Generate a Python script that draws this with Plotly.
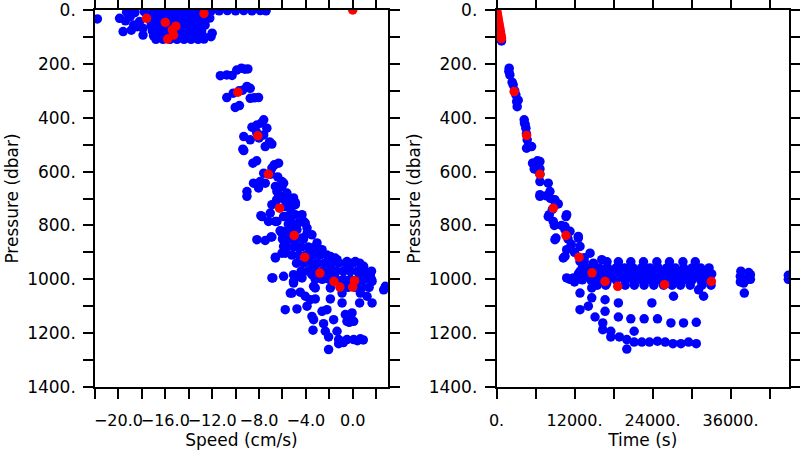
import plotly.graph_objects as go

# ---------------- data (speed [cm/s], pressure [dbar]) ----------------
left_blue_surface = [
    (-21.8, 33), (-19.9, 31), (-19.0, 25), (-19.4, 40), (-19.6, 80), (-18.7, 56), (-18.4, 62),
    (-18.2, 43), (-17.9, 93), (-17.9, 68), (-19.3, 8), (-18.6, 10), (-17.8, 6), (-18.9, 75),
    (-17.0, 3), (-16.3, 3), (-15.6, 2), (-14.9, 3), (-14.2, 2), (-13.5, 3), (-12.8, 2), (-12.1, 4),
    (-11.4, 3), (-10.7, 2), (-10.0, 3), (-9.3, 2), (-8.6, 3), (-7.9, 2), (-7.4, 3),
    (-17.2, 18), (-16.6, 18), (-16.0, 18), (-15.4, 18), (-14.8, 18), (-14.2, 18), (-13.6, 18), (-13.0, 18), (-12.5, 18),
    (-17.3, 38), (-16.7, 38), (-16.1, 38), (-15.5, 38), (-14.9, 38), (-14.3, 38), (-13.7, 38), (-13.1, 38), (-12.6, 38),
    (-17.2, 58), (-16.6, 58), (-16.0, 58), (-15.4, 58), (-14.8, 58), (-14.2, 58), (-13.6, 58), (-13.0, 58), (-12.6, 56),
    (-17.1, 78), (-16.5, 78), (-15.9, 78), (-15.3, 78), (-14.7, 78), (-14.1, 78), (-13.5, 78), (-12.9, 78),
    (-17.0, 96), (-16.4, 96), (-15.8, 96), (-15.2, 96), (-14.6, 96), (-14.0, 96), (-13.4, 96), (-12.8, 96),
    (-16.8, 109), (-16.2, 109), (-15.6, 109), (-15.0, 109), (-14.4, 109), (-13.8, 109), (-13.2, 109), (-12.7, 108),
    (-12.0, 86), (-12.1, 99), (-12.2, 30),
]

left_blue_descent = [
    (-11.3, 244), (-10.75, 241), (-10.3, 243), (-9.9, 223), (-9.5, 216), (-8.95, 219), (-9.2, 220),
    (-9.03, 284), (-8.75, 291), (-9.4, 298), (-10.2, 309), (-10.75, 325), (-9.7, 300), (-8.75, 328),
    (-8.04, 325), (-8.4, 326), (-10.03, 362), (-9.67, 355),
    (-7.6, 408), (-8.18, 427), (-7.33, 439), (-7.8, 420), (-8.6, 435), (-9.3, 470), (-8.75, 482),
    (-7.6, 464), (-8.2, 455), (-6.9, 498), (-7.47, 507), (-7.1, 490), (-9.38, 517), (-8.0, 475),
    (-9.3, 522), (-8.52, 569), (-6.33, 569), (-6.9, 587), (-7.6, 606), (-6.7, 575), (-8.2, 560),
    (-6.04, 637), (-8.47, 643), (-7.9, 637), (-6.4, 620), (-7.0, 610),
    (-9.03, 674), (-9.03, 692), (-8.04, 661), (-7.47, 643), (-5.9, 643), (-6.47, 674), (-5.62, 680),
    (-5.05, 698), (-6.6, 655), (-6.04, 655), (-6.33, 686), (-4.9, 715), (-6.9, 723), (-5.62, 723),
    (-4.9, 723), (-5.76, 730), (-5.3, 740), (-6.5, 705), (-6.0, 700), (-5.5, 700),
    (-7.75, 767), (-7.19, 785), (-6.47, 785), (-5.9, 767), (-5.33, 779), (-4.33, 760), (-4.19, 785),
    (-3.9, 810), (-7.04, 754), (-7.84, 764), (-6.6, 785), (-5.62, 767), (-4.9, 760), (-4.05, 791),
    (-5.0, 800), (-4.6, 790), (-5.5, 795),
    (-8.18, 853), (-6.9, 843), (-6.04, 822), (-5.62, 853), (-4.76, 816), (-4.33, 847), (-3.48, 835),
    (-3.05, 865), (-6.04, 829), (-5.33, 816), (-3.9, 829), (-5.05, 853), (-7.47, 856), (-6.98, 843),
    (-5.9, 878), (-6.04, 903), (-6.6, 918), (-3.6, 909), (-1.5, 921), (-2.77, 890),
]

left_blue_bottom = [
    (-6.2, 820), (-5.6, 820), (-5.0, 820),
    (-6.0, 850), (-5.4, 850), (-4.8, 850), (-4.2, 850),
    (-5.6, 880), (-5.0, 880), (-4.4, 880), (-3.8, 880), (-3.2, 880),
    (-5.2, 910), (-4.6, 910), (-4.0, 910), (-3.4, 910), (-2.8, 910), (-2.2, 910),
    (-4.8, 940), (-4.2, 940), (-3.6, 940), (-3.0, 940), (-2.4, 940), (-1.8, 940), (-1.2, 940), (-0.6, 940), (0.0, 940), (0.6, 940),
    (-4.4, 970), (-3.8, 970), (-3.2, 970), (-2.6, 970), (-2.0, 970), (-1.4, 970), (-0.8, 970), (-0.2, 970), (0.4, 970), (1.0, 970), (1.6, 970),
    (-3.2, 1000), (-2.6, 1000), (-2.0, 1000), (-1.4, 1000), (-0.8, 1000), (-0.2, 1000), (0.4, 1000), (1.0, 1000), (1.6, 1000),
    (-1.0, 1030), (-0.4, 1030), (0.2, 1030), (0.8, 1030), (1.4, 1030),
    (-5.76, 903), (-6.6, 921), (-4.76, 878), (-3.6, 884), (-2.62, 890), (-1.91, 915), (-1.34, 927),
    (-0.49, 934), (0.22, 934), (0.93, 952), (1.5, 983), (1.65, 1008), (0.65, 983), (-3.05, 940),
    (-3.6, 958), (-1.91, 958), (-0.49, 964), (0.65, 1008), (0.08, 1014), (-0.49, 1026), (-1.63, 989),
    (-2.34, 995), (-3.48, 983), (-5.9, 989), (-6.9, 995), (-5.05, 983), (-5.05, 1014), (-4.33, 995),
    (-3.34, 1026), (-1.91, 1032), (2.79, 1026), (2.64, 1039), (-5.33, 1051), (-4.05, 1063),
    (-6.82, 995), (-5.05, 1008), (-4.48, 989), (-5.19, 1051), (-4.48, 1048), (-3.62, 1076),
    (-3.9, 1100), (-3.2, 1073), (-5.76, 1113), (-4.76, 1110), (-3.2, 1032), (-1.91, 1073),
    (-0.91, 1088), (0.59, 1088), (1.22, 1063), (1.65, 1088), (-3.48, 1138), (-3.34, 1150),
    (-2.62, 1119), (-2.2, 1113), (-1.63, 1150), (-0.63, 1131), (-0.06, 1125), (-0.49, 1156),
    (0.08, 1156), (-3.39, 1189), (-2.34, 1193), (-2.06, 1214), (-1.34, 1193), (-1.2, 1224),
    (-0.49, 1224), (0.08, 1224), (0.65, 1221), (-1.2, 1239), (-2.06, 1261), (1.5, 977), (2.79, 1032),
    (0.65, 1051), (-0.91, 1051), (-2.49, 1165), (-0.2, 1140), (-0.3, 1160), (0.4, 1228),
    (-0.8, 1235), (0.9, 1225),
]

left_red = [
    (-17.6, 31), (-16.0, 46), (-15.1, 60), (-15.4, 74), (-15.3, 93), (-15.8, 108), (-12.7, 13),
    (0.0, 0), (-9.8, 305), (-8.1, 467), (-7.2, 610), (-6.25, 736), (-5.0, 837), (-4.1, 918),
    (-2.8, 977), (-1.6, 1008), (-1.1, 1029), (0.0, 1029), (0.15, 1005),
]

# ---------------- data (time [s], pressure [dbar]) ----------------
right_blue_descent = [
    (770, 115), (1943, 216), (2050, 241), (1900, 228), (2560, 278), (2976, 315), (3177, 359), (3330, 335),
    (2800, 300), (2400, 268), (3100, 340),
    (4256, 408), (4518, 439), (4718, 482), (5397, 507), (4626, 513), (4400, 425), (4600, 460), (4300, 420),
    (5551, 569), (6677, 563), (6677, 590), (6677, 610), (6677, 637), (6677, 686), (6677, 692), (5644, 569),
    (5800, 590), (6300, 560), (6500, 600),
    (7957, 643), (8219, 674), (8990, 711), (8990, 705), (8111, 760), (8728, 785), (7957, 767), (7700, 690),
    (8300, 700), (8600, 740), (9500, 720), (8990, 853), (9144, 847), (8900, 800),
    (10686, 767), (10532, 804), (11303, 822), (12583, 847), (10794, 760), (10532, 816), (10270, 921),
    (10794, 890), (10000, 800), (11000, 850), (11500, 870), (12000, 900), (10532, 915),
    (12583, 841), (12845, 878), (12845, 934), (14387, 903), (14900, 940), (16190, 927), (16700, 964),
    (13500, 920), (15500, 960), (10794, 995), (11812, 995), (12845, 971), (14800, 1008), (16960, 1014),
]

right_blue_band = [
    (13500, 935), (17000, 935), (18750, 935), (20660, 935), (22610, 935), (24670, 935), (26610, 935), (28680, 935), (30580, 935),
    (13200, 958), (14500, 958), (15800, 958), (17100, 958), (18400, 958), (19700, 958), (21000, 958), (22300, 958),
    (23600, 958), (24900, 958), (26200, 958), (27500, 958), (28800, 958), (30100, 958), (31400, 958), (32700, 958),
    (12600, 980), (13900, 980), (15200, 980), (16500, 980), (17800, 980), (19100, 980), (20400, 980), (21700, 980),
    (23000, 980), (24300, 980), (25600, 980), (26900, 980), (28200, 980), (29500, 980), (30800, 980), (32100, 980), (33100, 980),
    (13200, 1002), (14500, 1002), (15800, 1002), (17100, 1002), (18400, 1002), (19700, 1002), (21000, 1002), (22300, 1002),
    (23600, 1002), (24900, 1002), (26200, 1002), (27500, 1002), (28800, 1002), (30100, 1002), (31400, 1002), (32700, 1002),
    (15500, 1022), (16800, 1022), (19800, 1022), (21200, 1022), (22700, 1022), (24200, 1022), (25700, 1022), (27000, 1022),
    (28300, 1022), (29800, 1022), (31600, 1022), (33000, 1022),
]

right_blue_deep = [
    (12845, 1051), (12845, 1113), (14650, 1032), (14650, 1069), (14125, 1100), (15158, 1140), (16345, 1162),
    (16345, 1187), (16700, 1076), (16700, 1119), (17580, 1193), (17580, 1214), (18750, 1088), (18750, 1140),
    (18905, 1214), (20046, 1224), (20046, 1259), (20663, 1147), (21172, 1193), (21172, 1233), (22360, 1233),
    (22714, 1147), (23532, 1233), (23901, 1088), (24765, 1147), (24765, 1230), (25952, 1233), (26831, 1162),
    (27139, 1239), (28373, 1239), (28774, 1162), (29545, 1233), (30733, 1160), (30733, 1239), (27231, 1063),
    (31858, 1063), (31087, 1039), (12000, 1010), (11300, 1000),
    (37517, 989), (38028, 1014), (39060, 983), (39060, 1000), (38500, 1000), (37517, 1010), (38126, 1051),
    (38800, 975), (37600, 970), (44900, 985), (44900, 1000),
]

right_red = [
    (0, 0), (60, 8), (120, 16), (180, 24), (240, 33), (300, 41), (360, 49), (420, 58), (480, 66),
    (540, 74), (600, 82), (660, 91), (720, 99), (760, 106),
    (2714, 303), (4626, 466), (6677, 610), (8730, 736), (10686, 837), (12691, 918), (14695, 976),
    (16700, 1008), (18650, 1026), (25850, 1020), (33050, 1008),
]

pressure_ticks = [0, 100, 200, 300, 400, 500, 600, 700, 800, 900, 1000, 1100, 1200, 1300, 1400]
pressure_labels = ["0.", "", "200.", "", "400.", "", "600.", "", "800.", "", "1000.", "", "1200.", "", "1400."]
speed_ticks = [-22, -20, -18, -16, -14, -12, -10, -8, -6, -4, -2, 0, 2]
speed_labels = ["", "\u221220.0", "", "\u221216.0", "", "\u221212.0", "", "\u22128.0", "", "\u22124.0", "", "0.0", ""]
time_ticks = [0, 6000, 12000, 18000, 24000, 30000, 36000, 42000]
time_labels = ["0.", "", "12000.", "", "24000.", "", "36000.", ""]


def unzip(pts):
    return [p[0] for p in pts], [p[1] for p in pts]


BLUE = "#0000ff"
RED = "#ff0000"
MS = 9.5

fig = go.Figure()
for grp in (left_blue_surface, left_blue_descent, left_blue_bottom):
    x, y = unzip(grp)
    fig.add_trace(go.Scatter(x=x, y=y, mode="markers", xaxis="x", yaxis="y",
                             marker=dict(color=BLUE, size=MS, line=dict(width=0))))
x, y = unzip(left_red)
fig.add_trace(go.Scatter(x=x, y=y, mode="markers", xaxis="x", yaxis="y",
                         marker=dict(color=RED, size=MS, line=dict(width=0))))
for grp in (right_blue_descent, right_blue_band, right_blue_deep):
    x, y = unzip(grp)
    fig.add_trace(go.Scatter(x=x, y=y, mode="markers", xaxis="x2", yaxis="y2",
                             marker=dict(color=BLUE, size=MS, line=dict(width=0))))
x, y = unzip(right_red)
fig.add_trace(go.Scatter(x=x, y=y, mode="markers", xaxis="x2", yaxis="y2",
                         marker=dict(color=RED, size=MS, line=dict(width=0))))

FONT = "DejaVu Sans"
common = dict(showline=True, linecolor="black", linewidth=1.6, mirror="ticks", ticks="outside",
              ticklen=10, tickwidth=1.6, tickcolor="black", showgrid=False, zeroline=False,
              automargin=False, tickangle=0,
              title_font=dict(family=FONT, size=17, color="black"))
yfont = dict(family=FONT, size=17, color="black")
xfont = dict(family=FONT, size=16, color="black")

# plot frame: left 95 px, right 789.3 px, top 10 px, bottom 387.3 px
L, R, T, B = 95, 789.3, 10, 387.3
W = R - L
fig.update_layout(
    width=800, height=450, margin=dict(l=L, r=800 - R, t=T, b=450 - B, pad=0),
    paper_bgcolor="white", plot_bgcolor="white", showlegend=False,
    xaxis=dict(domain=[0, (388 - L) / W], range=[-22, 3], tickmode="array",
               tickvals=speed_ticks, ticktext=speed_labels, anchor="y", tickfont=xfont,
               ticklabelstandoff=8,
               title=dict(text="Speed (cm/s)", standoff=6), **common),
    yaxis=dict(domain=[0, 1], range=[1400, 0], tickmode="array", tickvals=pressure_ticks,
               ticktext=pressure_labels, anchor="x", ticklabelstandoff=4, tickfont=yfont,
               title=dict(text="Pressure (dbar)", standoff=4), **common),
    xaxis2=dict(domain=[(496.7 - L) / W, 1], range=[0, 45000], tickmode="array",
                tickvals=time_ticks, ticktext=time_labels, anchor="y2", tickfont=xfont,
                ticklabelstandoff=8,
                title=dict(text="Time (s)", standoff=6), **common),
    yaxis2=dict(domain=[0, 1], range=[1400, 0], tickmode="array", tickvals=pressure_ticks,
                ticktext=pressure_labels, anchor="x2", ticklabelstandoff=4, tickfont=yfont,
                title=dict(text="Pressure (dbar)", standoff=4), **common),
)

fig.write_html("out.html", config={"displayModeBar": False},
               post_script="document.body.style.margin='0';document.body.style.padding='0';")
